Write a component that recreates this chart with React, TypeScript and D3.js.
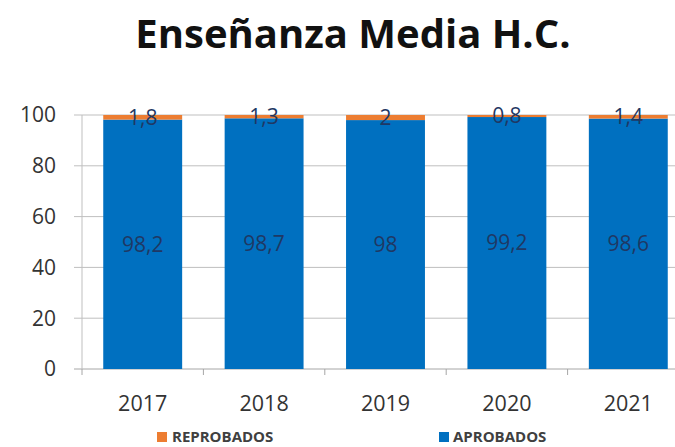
import React from "react";
import * as d3 from "d3";

const years = ["2017", "2018", "2019", "2020", "2021"];
const aprobados = [98.2, 98.7, 98, 99.2, 98.6];
const reprobados = [1.8, 1.3, 2, 0.8, 1.4];
const yTicks = [0, 20, 40, 60, 80, 100];
const labelsAprob = ["98,2", "98,7", "98", "99,2", "98,6"];
const labelsReprob = ["1,8", "1,3", "2", "0,8", "1,4"];

const W = 675;
const H = 447;
const BLUE = "#0070C0";
const ORANGE = "#ED7D31";
const FONT = "'Open Sans', 'Noto Sans', sans-serif";

export default function App() {
  const x = d3.scaleBand<string>().domain(years).range([82, 689]).paddingInner(0.35).paddingOuter(0.175);
  const y = d3.scaleLinear().domain([0, 100]).range([369, 115]);
  const step = x.step();
  return (
    <svg width={W} height={H} style={{ position: "absolute", left: 0, top: 0, background: "#fff" }}>
      <text x={353} y={48} textAnchor="middle" fontFamily={FONT} fontWeight={700} fontSize={40} fill="#111">
        Enseñanza Media H.C.
      </text>
      {yTicks.map((t) => (
        <g key={t}>
          <line x1={74} x2={W} y1={y(t)} y2={y(t)} stroke={t === 0 ? "#A6A6A6" : "#BFBFBF"} strokeWidth={1} />
          <text x={56} y={y(t)} dy="0.35em" textAnchor="end" fontFamily={FONT} fontSize={21} fill="#333">
            {t}
          </text>
        </g>
      ))}
      <line x1={82} x2={82} y1={115} y2={369} stroke="#BFBFBF" />
      {years.map((yr, i) => (
        <line key={"tk" + yr} x1={82 + step * i} x2={82 + step * i} y1={369} y2={375} stroke="#A6A6A6" />
      ))}
      {years.map((yr, i) => {
        const x0 = x(yr)!;
        const bw = x.bandwidth();
        const top = aprobados[i] + reprobados[i];
        return (
          <g key={yr}>
            <rect x={x0} y={y(aprobados[i])} width={bw} height={y(0) - y(aprobados[i])} fill={BLUE} />
            <rect x={x0} y={y(top)} width={bw} height={y(aprobados[i]) - y(top)} fill={ORANGE} />
            <text x={x0 + bw / 2} y={y(aprobados[i] / 2)} dy="0.35em" textAnchor="middle" fontFamily={FONT} fontSize={21} fill="#1F3864">
              {labelsAprob[i]}
            </text>
            <text x={x0 + bw / 2} y={y(aprobados[i] + reprobados[i] / 2)} dy="0.35em" textAnchor="middle" fontFamily={FONT} fontSize={21} fill="#1F3864">
              {labelsReprob[i]}
            </text>
            <text x={x0 + bw / 2} y={403} dy="0.35em" textAnchor="middle" fontFamily={FONT} fontSize={21.5} fill="#333">
              {yr}
            </text>
          </g>
        );
      })}
      <rect x={157} y={432} width={10} height={10} fill={ORANGE} />
      <text x={172} y={437} dy="0.35em" fontFamily={FONT} fontWeight={700} fontSize={15} fill="#404040">
        REPROBADOS
      </text>
      <rect x={439} y={432} width={10} height={10} fill={BLUE} />
      <text x={453} y={437} dy="0.35em" fontFamily={FONT} fontWeight={700} fontSize={15} fill="#404040">
        APROBADOS
      </text>
    </svg>
  );
}
